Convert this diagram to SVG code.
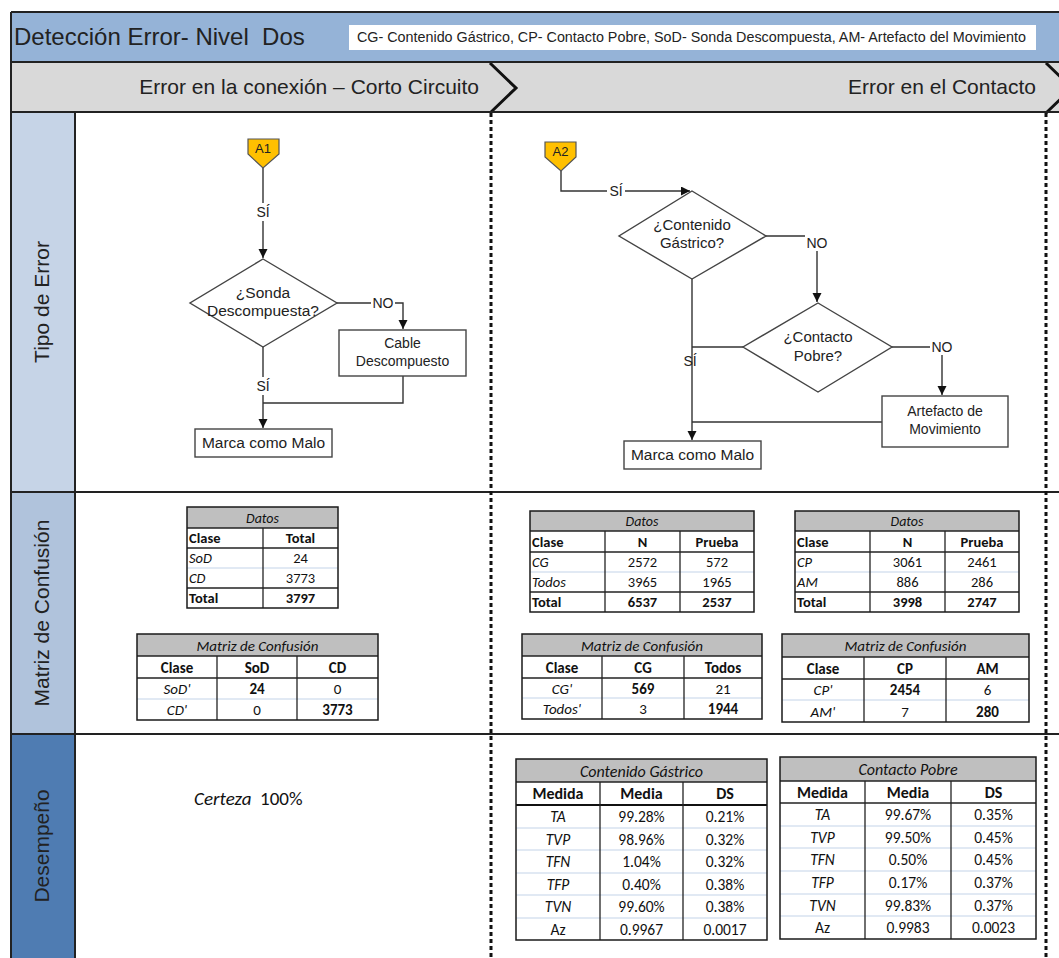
<svg xmlns="http://www.w3.org/2000/svg" width="1059" height="958" viewBox="0 0 1059 958">
  <style>
    .sans { font-family: "Liberation Sans", Arial, sans-serif; fill: #222; }
    .cal { font-family: Carlito, Lato, "Liberation Sans", sans-serif; fill: #111; }
    .frame { stroke: #222; stroke-width: 2; fill: none; }
    .sep { stroke: #111; stroke-width: 3; stroke-dasharray: 4 3; fill: none; }
    .chev { stroke: #111; stroke-width: 3; fill: none; stroke-linejoin: miter; }
    .shape { fill: #fff; stroke: #444; stroke-width: 1.4; }
    .conn { fill: none; stroke: #333; stroke-width: 1.4; }
    .lbl { font-family: "Liberation Sans", Arial, sans-serif; font-size: 14px; fill: #222; text-anchor: middle; }
    .tout { fill: none; stroke: #1a1a1a; stroke-width: 1.5; }
    .tdk { stroke: #222; stroke-width: 1.3; }
    .tlt { stroke: #c3d3e8; stroke-width: 1; }
    .thd { fill: #bfbfbf; }
    .c { text-anchor: middle; }
    .b { font-weight: bold; }
    .i { font-style: italic; }
  </style>
  <defs>
    <marker id="arrow" markerUnits="userSpaceOnUse" markerWidth="10" markerHeight="10" refX="9" refY="4.5" orient="auto">
      <path d="M0,0 L9,4.5 L0,9 z" fill="#111"/>
    </marker>
  </defs>

  <rect width="1059" height="958" fill="#fff"/>

  <!-- title band -->
  <g id="title">
    <rect x="11" y="12" width="1048" height="50" fill="#95b3d7"/>
    <text class="sans" x="14" y="45" font-size="24">Detección Error- Nivel&#160; Dos</text>
    <rect x="349" y="25" width="687" height="25" fill="#fff"/>
    <text class="sans" x="357" y="42" font-size="14" textLength="669" lengthAdjust="spacingAndGlyphs">CG- Contenido Gástrico, CP- Contacto Pobre, SoD- Sonda Descompuesta, AM- Artefacto del Movimiento</text>
  </g>

  <!-- phase band -->
  <g id="phases">
    <rect x="11" y="62" width="1048" height="50" fill="#d9d9d9"/>
    <text class="sans" x="479" y="94" font-size="21" text-anchor="end">Error en la conexión – Corto Circuito</text>
    <text class="sans" x="1036" y="94" font-size="21" text-anchor="end">Error en el Contacto</text>
    <polyline class="chev" points="490,63 516,88 490,113"/>
    <polyline class="chev" points="1046,63 1072,88 1046,113"/>
  </g>

  <!-- lane headers -->
  <g id="lanes">
    <rect x="11" y="112" width="64" height="380" fill="#c6d4e7"/>
    <rect x="11" y="492" width="64" height="242" fill="#b0c3dc"/>
    <rect x="11" y="734" width="64" height="224" fill="#4f7cb2"/>
    <text class="sans" font-size="21" text-anchor="middle" transform="translate(49,302) rotate(-90)">Tipo de Error</text>
    <text class="sans" font-size="21" text-anchor="middle" transform="translate(49,613) rotate(-90)">Matriz de Confusión</text>
    <text class="sans" font-size="21" text-anchor="middle" transform="translate(49,846) rotate(-90)">Desempeño</text>
  </g>

  <!-- grid lines -->
  <g id="grid">
    <line class="frame" x1="11" y1="12" x2="1059" y2="12"/>
    <line class="frame" x1="11" y1="62" x2="1059" y2="62"/>
    <line class="frame" x1="11" y1="112" x2="1059" y2="112"/>
    <line class="frame" x1="11" y1="12" x2="11" y2="958"/>
    <line class="frame" x1="75" y1="112" x2="75" y2="958" stroke="#555" stroke-width="1.5"/>
    <line class="frame" x1="11" y1="492" x2="1059" y2="492"/>
    <line class="frame" x1="11" y1="734" x2="1059" y2="734"/>
    <line class="sep" x1="491" y1="113" x2="491" y2="958"/>
    <line class="sep" x1="1046" y1="113" x2="1046" y2="958"/>
  </g>

  <!-- connectors -->
  <g id="connectors">
    <path class="conn" d="M263,168 V258" marker-end="url(#arrow)"/>
    <path class="conn" d="M337,303 H403 V329" marker-end="url(#arrow)"/>
    <path class="conn" d="M263,347 V428" marker-end="url(#arrow)"/>
    <path class="conn" d="M403,376 V403 H263"/>
    <path class="conn" d="M561,171 V191 H690" marker-end="url(#arrow)"/>
    <path class="conn" d="M766,236 H817 V302" marker-end="url(#arrow)"/>
    <path class="conn" d="M892,347 H942 V395" marker-end="url(#arrow)"/>
    <path class="conn" d="M692,279 V440" marker-end="url(#arrow)"/>
    <path class="conn" d="M743,347 H692"/>
    <path class="conn" d="M882,422 H692"/>
    <!-- branch labels -->
    <rect x="254" y="203" width="18" height="18" fill="#fff"/>
    <text class="lbl" x="263" y="217">SÍ</text>
    <rect x="371" y="296" width="24" height="14" fill="#fff"/>
    <text class="lbl" x="383" y="308">NO</text>
    <rect x="254" y="377" width="18" height="18" fill="#fff"/>
    <text class="lbl" x="263" y="391">SÍ</text>
    <rect x="607" y="184" width="18" height="14" fill="#fff"/>
    <text class="lbl" x="616" y="196">SÍ</text>
    <rect x="805" y="235" width="24" height="16" fill="#fff"/>
    <text class="lbl" x="817" y="248">NO</text>
    <rect x="930" y="340" width="24" height="15" fill="#fff"/>
    <text class="lbl" x="942" y="352">NO</text>
    <text class="lbl" x="690" y="366">SÍ</text>
  </g>

  <!-- flow: short circuit -->
  <g id="a1">
    <polygon points="248,139 279,139 279,154 263,168 248,154" fill="#ffc000" stroke="#555" stroke-width="1.2"/>
    <text class="sans" x="263" y="153" font-size="13" text-anchor="middle">A1</text>
  </g>
  <g id="sonda">
    <polygon class="shape" points="263,259 337,303 263,347 190,303"/>
    <text class="sans" x="263" y="298" font-size="15.5" text-anchor="middle">¿Sonda</text>
    <text class="sans" x="263" y="316" font-size="15.5" text-anchor="middle">Descompuesta?</text>
  </g>
  <g id="cable">
    <rect class="shape" x="339" y="330" width="127" height="46"/>
    <text class="sans" x="402.5" y="348" font-size="14" text-anchor="middle">Cable</text>
    <text class="sans" x="402.5" y="366" font-size="14" text-anchor="middle">Descompuesto</text>
  </g>
  <g id="malo1">
    <rect class="shape" x="195" y="429" width="137" height="28"/>
    <text class="sans" x="263.5" y="448" font-size="15.5" text-anchor="middle">Marca como Malo</text>
  </g>

  <!-- flow: contact -->
  <g id="a2">
    <polygon points="545,142 576,142 576,157 561,171 545,157" fill="#ffc000" stroke="#555" stroke-width="1.2"/>
    <text class="sans" x="560.5" y="156" font-size="13" text-anchor="middle">A2</text>
  </g>
  <g id="gastrico">
    <polygon class="shape" points="692,191 766,236 692,279 619,236"/>
    <text class="sans" x="692" y="230" font-size="15" text-anchor="middle">¿Contenido</text>
    <text class="sans" x="692" y="248" font-size="15" text-anchor="middle">Gástrico?</text>
  </g>
  <g id="pobre">
    <polygon class="shape" points="818,303 892,347 818,392 743,347"/>
    <text class="sans" x="818" y="342" font-size="15" text-anchor="middle">¿Contacto</text>
    <text class="sans" x="818" y="361" font-size="15" text-anchor="middle">Pobre?</text>
  </g>
  <g id="artefacto">
    <rect class="shape" x="882" y="396" width="126" height="51"/>
    <text class="sans" x="945" y="416" font-size="14" text-anchor="middle">Artefacto de</text>
    <text class="sans" x="945" y="434" font-size="14" text-anchor="middle">Movimiento</text>
  </g>
  <g id="malo2">
    <rect class="shape" x="624" y="441" width="137" height="28"/>
    <text class="sans" x="692.5" y="460" font-size="15.5" text-anchor="middle">Marca como Malo</text>
  </g>

  <!-- data: short circuit -->
  <g id="datos-sod" class="cal" font-size="14.5">
    <rect class="thd" x="187" y="507" width="151" height="21"/>
    <line class="tdk" x1="187" y1="528" x2="338" y2="528"/>
    <line class="tdk" x1="187" y1="548" x2="338" y2="548"/>
    <line class="tlt" x1="187" y1="568" x2="338" y2="568"/>
    <line class="tdk" x1="187" y1="588" x2="338" y2="588"/>
    <line class="tdk" x1="263" y1="528" x2="263" y2="608"/>
    <rect class="tout" x="187" y="507" width="151" height="101"/>
    <text class="cal c i" x="262.5" y="522.5" font-size="14">Datos</text>
    <text class="cal b" x="189" y="543">Clase</text>
    <text class="cal b c" x="300.5" y="543">Total</text>
    <text class="cal i" x="189" y="563">SoD</text>
    <text class="cal c" x="300.5" y="563">24</text>
    <text class="cal i" x="189" y="583">CD</text>
    <text class="cal c" x="300.5" y="583">3773</text>
    <text class="cal b" x="189" y="603">Total</text>
    <text class="cal b c" x="300.5" y="603">3797</text>
  </g>
  <g id="matriz-sod" class="cal" font-size="15">
    <rect class="thd" x="137" y="634" width="241" height="22"/>
    <line class="tdk" x1="137" y1="656" x2="378" y2="656"/>
    <line class="tdk" x1="137" y1="678" x2="378" y2="678"/>
    <line class="tlt" x1="137" y1="699" x2="378" y2="699"/>
    <line class="tdk" x1="217" y1="656" x2="217" y2="720"/>
    <line class="tdk" x1="297" y1="656" x2="297" y2="720"/>
    <rect class="tout" x="137" y="634" width="241" height="86"/>
    <text class="cal c i" x="257.5" y="650.5" font-size="15">Matriz de Confusión</text>
    <text class="cal b c" x="177" y="672.5">Clase</text>
    <text class="cal b c" x="257" y="672.5">SoD</text>
    <text class="cal b c" x="337.5" y="672.5">CD</text>
    <text class="cal i c" x="177" y="693.5">SoD'</text>
    <text class="cal b c" x="257" y="693.5">24</text>
    <text class="cal c" x="337.5" y="693.5">0</text>
    <text class="cal i c" x="177" y="714.5">CD'</text>
    <text class="cal c" x="257" y="714.5">0</text>
    <text class="cal b c" x="337.5" y="714.5">3773</text>
  </g>
  <g id="certeza">
    <text class="cal" x="194" y="805" font-size="19" fill="#333"><tspan font-style="italic">Certeza</tspan>&#160; 100%</text>
  </g>

  <!-- data: contact -->
  <g id="datos-cg" class="cal" font-size="14.5">
    <rect class="thd" x="530" y="511" width="224" height="20"/>
    <line class="tdk" x1="530" y1="531" x2="754" y2="531"/>
    <line class="tdk" x1="530" y1="552" x2="754" y2="552"/>
    <line class="tlt" x1="530" y1="572" x2="754" y2="572"/>
    <line class="tdk" x1="530" y1="592" x2="754" y2="592"/>
    <line class="tdk" x1="605" y1="531" x2="605" y2="612"/>
    <line class="tdk" x1="680" y1="531" x2="680" y2="612"/>
    <rect class="tout" x="530" y="511" width="224" height="101"/>
    <text class="cal c i" x="642" y="526" font-size="14">Datos</text>
    <text class="cal b" x="532" y="547">Clase</text>
    <text class="cal b c" x="642.5" y="547">N</text>
    <text class="cal b c" x="717" y="547">Prueba</text>
    <text class="cal i" x="532" y="567">CG</text>
    <text class="cal c" x="642.5" y="567">2572</text>
    <text class="cal c" x="717" y="567">572</text>
    <text class="cal i" x="532" y="587">Todos</text>
    <text class="cal c" x="642.5" y="587">3965</text>
    <text class="cal c" x="717" y="587">1965</text>
    <text class="cal b" x="532" y="607">Total</text>
    <text class="cal b c" x="642.5" y="607">6537</text>
    <text class="cal b c" x="717" y="607">2537</text>
  </g>
  <g id="datos-cp" class="cal" font-size="14.5">
    <rect class="thd" x="795" y="511" width="224" height="20"/>
    <line class="tdk" x1="795" y1="531" x2="1019" y2="531"/>
    <line class="tdk" x1="795" y1="552" x2="1019" y2="552"/>
    <line class="tlt" x1="795" y1="572" x2="1019" y2="572"/>
    <line class="tdk" x1="795" y1="592" x2="1019" y2="592"/>
    <line class="tdk" x1="870" y1="531" x2="870" y2="612"/>
    <line class="tdk" x1="945" y1="531" x2="945" y2="612"/>
    <rect class="tout" x="795" y="511" width="224" height="101"/>
    <text class="cal c i" x="907" y="526" font-size="14">Datos</text>
    <text class="cal b" x="797" y="547">Clase</text>
    <text class="cal b c" x="907.5" y="547">N</text>
    <text class="cal b c" x="982" y="547">Prueba</text>
    <text class="cal i" x="797" y="567">CP</text>
    <text class="cal c" x="907.5" y="567">3061</text>
    <text class="cal c" x="982" y="567">2461</text>
    <text class="cal i" x="797" y="587">AM</text>
    <text class="cal c" x="907.5" y="587">886</text>
    <text class="cal c" x="982" y="587">286</text>
    <text class="cal b" x="797" y="607">Total</text>
    <text class="cal b c" x="907.5" y="607">3998</text>
    <text class="cal b c" x="982" y="607">2747</text>
  </g>
  <g id="matriz-cg" class="cal" font-size="15">
    <rect class="thd" x="522" y="634" width="240" height="22"/>
    <line class="tdk" x1="522" y1="656" x2="762" y2="656"/>
    <line class="tdk" x1="522" y1="678" x2="762" y2="678"/>
    <line class="tlt" x1="522" y1="698" x2="762" y2="698"/>
    <line class="tdk" x1="602" y1="656" x2="602" y2="719"/>
    <line class="tdk" x1="684" y1="656" x2="684" y2="719"/>
    <rect class="tout" x="522" y="634" width="240" height="85"/>
    <text class="cal c i" x="642" y="650.5" font-size="15">Matriz de Confusión</text>
    <text class="cal b c" x="562" y="672.5">Clase</text>
    <text class="cal b c" x="643" y="672.5">CG</text>
    <text class="cal b c" x="723" y="672.5">Todos</text>
    <text class="cal i c" x="562" y="693.5">CG'</text>
    <text class="cal b c" x="643" y="693.5">569</text>
    <text class="cal c" x="723" y="693.5">21</text>
    <text class="cal i c" x="562" y="714">Todos'</text>
    <text class="cal c" x="643" y="714">3</text>
    <text class="cal b c" x="723" y="714">1944</text>
  </g>
  <g id="matriz-cp" class="cal" font-size="15">
    <rect class="thd" x="782" y="634" width="247" height="23"/>
    <line class="tdk" x1="782" y1="657" x2="1029" y2="657"/>
    <line class="tdk" x1="782" y1="679" x2="1029" y2="679"/>
    <line class="tlt" x1="782" y1="700" x2="1029" y2="700"/>
    <line class="tdk" x1="864" y1="657" x2="864" y2="722"/>
    <line class="tdk" x1="946" y1="657" x2="946" y2="722"/>
    <rect class="tout" x="782" y="634" width="247" height="88"/>
    <text class="cal c i" x="905.5" y="651" font-size="15">Matriz de Confusión</text>
    <text class="cal b c" x="823" y="673.5">Clase</text>
    <text class="cal b c" x="905" y="673.5">CP</text>
    <text class="cal b c" x="987.5" y="673.5">AM</text>
    <text class="cal i c" x="823" y="694.5">CP'</text>
    <text class="cal b c" x="905" y="694.5">2454</text>
    <text class="cal c" x="987.5" y="694.5">6</text>
    <text class="cal i c" x="823" y="716.5">AM'</text>
    <text class="cal c" x="905" y="716.5">7</text>
    <text class="cal b c" x="987.5" y="716.5">280</text>
  </g>

  <!-- performance tables -->
  <g id="perf-cg" class="cal" font-size="15.5">
    <rect class="thd" x="516" y="759" width="251" height="23"/>
    <line class="tdk" x1="516" y1="782" x2="767" y2="782"/>
    <line class="tlt" x1="516" y1="828" x2="767" y2="828"/>
    <line class="tlt" x1="516" y1="850" x2="767" y2="850"/>
    <line class="tlt" x1="516" y1="873" x2="767" y2="873"/>
    <line class="tlt" x1="516" y1="895" x2="767" y2="895"/>
    <line class="tlt" x1="516" y1="918" x2="767" y2="918"/>
    <line stroke="#111" stroke-width="2.2" x1="516" y1="805" x2="767" y2="805"/>
    <line class="tdk" x1="600" y1="782" x2="600" y2="940"/>
    <line class="tdk" x1="683" y1="782" x2="683" y2="940"/>
    <rect class="tout" x="516" y="759" width="251" height="181"/>
    <text class="cal c i" x="641.5" y="776.5" font-size="16">Contenido Gástrico</text>
    <text class="cal b c" x="558" y="799" font-size="16">Medida</text>
    <text class="cal b c" x="641.5" y="799" font-size="16">Media</text>
    <text class="cal b c" x="725" y="799" font-size="16">DS</text>
    <text class="cal i c" x="558" y="822">TA</text>
    <text class="cal c" x="641.5" y="822">99.28%</text>
    <text class="cal c" x="725" y="822">0.21%</text>
    <text class="cal i c" x="558" y="844.5">TVP</text>
    <text class="cal c" x="641.5" y="844.5">98.96%</text>
    <text class="cal c" x="725" y="844.5">0.32%</text>
    <text class="cal i c" x="558" y="867">TFN</text>
    <text class="cal c" x="641.5" y="867">1.04%</text>
    <text class="cal c" x="725" y="867">0.32%</text>
    <text class="cal i c" x="558" y="889.5">TFP</text>
    <text class="cal c" x="641.5" y="889.5">0.40%</text>
    <text class="cal c" x="725" y="889.5">0.38%</text>
    <text class="cal i c" x="558" y="912">TVN</text>
    <text class="cal c" x="641.5" y="912">99.60%</text>
    <text class="cal c" x="725" y="912">0.38%</text>
    <text class="cal c" x="558" y="934.5">Az</text>
    <text class="cal c" x="641.5" y="934.5">0.9967</text>
    <text class="cal c" x="725" y="934.5">0.0017</text>
  </g>
  <g id="perf-cp" class="cal" font-size="15.5">
    <rect class="thd" x="780" y="757" width="256" height="24"/>
    <line class="tdk" x1="780" y1="781" x2="1036" y2="781"/>
    <line class="tdk" x1="780" y1="803" x2="1036" y2="803"/>
    <line class="tlt" x1="780" y1="826" x2="1036" y2="826"/>
    <line class="tlt" x1="780" y1="848" x2="1036" y2="848"/>
    <line class="tlt" x1="780" y1="871" x2="1036" y2="871"/>
    <line class="tlt" x1="780" y1="894" x2="1036" y2="894"/>
    <line class="tlt" x1="780" y1="916" x2="1036" y2="916"/>
    <line class="tdk" x1="865" y1="781" x2="865" y2="939"/>
    <line class="tdk" x1="951" y1="781" x2="951" y2="939"/>
    <rect class="tout" x="780" y="757" width="256" height="182"/>
    <text class="cal c i" x="908" y="775" font-size="16">Contacto Pobre</text>
    <text class="cal b c" x="822.5" y="797.5" font-size="16">Medida</text>
    <text class="cal b c" x="908" y="797.5" font-size="16">Media</text>
    <text class="cal b c" x="993.5" y="797.5" font-size="16">DS</text>
    <text class="cal i c" x="822.5" y="820">TA</text>
    <text class="cal c" x="908" y="820">99.67%</text>
    <text class="cal c" x="993.5" y="820">0.35%</text>
    <text class="cal i c" x="822.5" y="842.5">TVP</text>
    <text class="cal c" x="908" y="842.5">99.50%</text>
    <text class="cal c" x="993.5" y="842.5">0.45%</text>
    <text class="cal i c" x="822.5" y="865">TFN</text>
    <text class="cal c" x="908" y="865">0.50%</text>
    <text class="cal c" x="993.5" y="865">0.45%</text>
    <text class="cal i c" x="822.5" y="888">TFP</text>
    <text class="cal c" x="908" y="888">0.17%</text>
    <text class="cal c" x="993.5" y="888">0.37%</text>
    <text class="cal i c" x="822.5" y="910.5">TVN</text>
    <text class="cal c" x="908" y="910.5">99.83%</text>
    <text class="cal c" x="993.5" y="910.5">0.37%</text>
    <text class="cal c" x="822.5" y="933">Az</text>
    <text class="cal c" x="908" y="933">0.9983</text>
    <text class="cal c" x="993.5" y="933">0.0023</text>
  </g>
</svg>
